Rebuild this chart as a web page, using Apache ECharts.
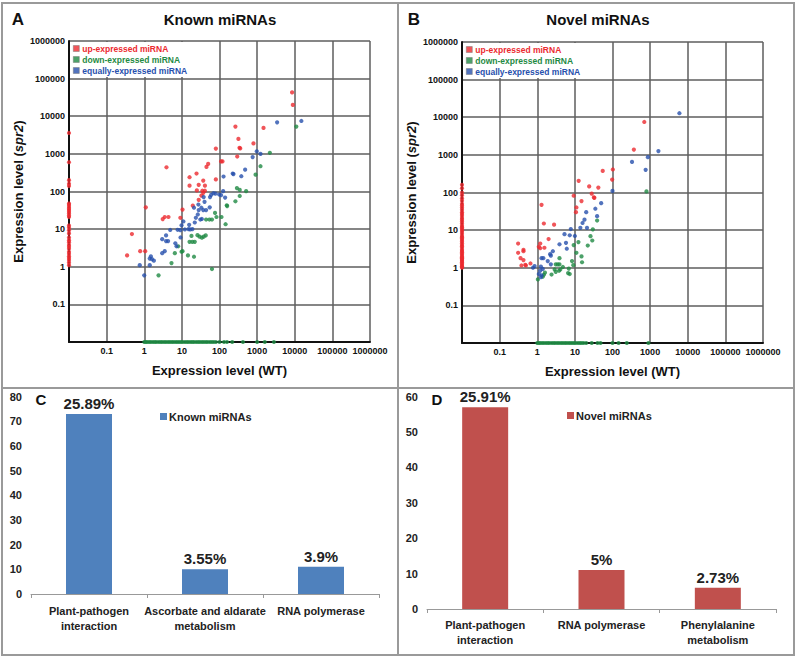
<!DOCTYPE html>
<html><head><meta charset="utf-8">
<script src="https://cdn.jsdelivr.net/npm/echarts@6/dist/echarts.min.js"></script>
<style>html,body{margin:0;padding:0;background:#fff}#c{width:797px;height:658px}</style>
</head><body><div id="c"></div>
<script>
// ---------- DATA ----------
const logTickLabels = ['', '0.1', '1', '10', '100', '1000', '10000', '100000', '1000000'];
const seriesNames = ['up-expressed miRNA', 'down-expressed miRNA', 'equally-expressed miRNA'];

// Panel A: known miRNAs  [WT, spr2]; a 0 means not detected (drawn on the axis)
const knownUp = [[8500,43000],[8900,20000],[265,5300],[1480,4900],[318,2500],[800,1900],[355,1400],[340,1450],[80,1380],[296,850],[110,630],[120,630],[50,540],[45,450],[3.9,440],[24.5,300],[16,240],[37,195],[80,210],[28,150],[41,143],[16,143],[25,107],[35,105],[41,105],[37,92],[33,78],[28,60],[19.5,42],[10.4,33],[1.1,38],[4.4,21],[3.5,21],[3.1,18.5],[9.1,20],[0.47,7.4],[0.78,2.6],[1.06,2.6],[0.35,2.0],
 [0,3600],[0,600],[0,200],[0,160],[0,140],[0,48],[0,44],[0,39],[0,35],[0,32],[0,29],[0,26],[0,23],[0,21],[0,12.5],[0,11],[0,9.3],[0,7.7],[0,6],[0,5.1],[0,4.5],[0,3.8],[0,3.4],[0,3.0],[0,2.5],[0,2.2],[0,1.9],[0,1.7],[0,1.5],[0,1.3],[0,1.1]];
const knownDown = [[11000,5300],[2180,1070],[1230,470],[910,280],[290,123],[345,110],[510,102],[345,76],[265,55],[156,43],[160,41],[76,27],[83,21],[113,21],[54,18],[63,18],[44,18],[145,13.5],[18,6.6],[26,6.9],[29.5,6.3],[34,5.9],[43,6.8],[38,6.3],[22,4.6],[19,4.6],[16,4.6],[8,3.5],[10.4,2.6],[9.8,2.5],[6.5,2.3],[14.5,2.0],[21,1.85],[5.3,1.25],[2.4,0.59],[63,0.87],
 [1,0],[1.1,0],[1.2,0],[1.35,0],[1.5,0],[1.7,0],[1.9,0],[2.1,0],[2.4,0],[2.7,0],[3,0],[3.4,0],[3.8,0],[4.3,0],[4.8,0],[5.4,0],[6,0],[6.8,0],[7.6,0],[8.5,0],[9.5,0],[10.5,0],[12,0],[13.5,0],[15,0],[17,0],[19,0],[21,0],[24,0],[27,0],[30,0],[34,0],[38,0],[43,0],[48,0],[55,0],[62,0],[70,0],[80,0],[100,0],[132,0],[158,0],[218,0],[420,0],[1000,0],[1600,0],[2800,0]];
const knownEqual = [[3400,6900],[15000,7500],[980,1170],[1230,1000],[760,820],[480,380],[225,300],[235,290],[380,255],[128,250],[125,102],[69,90],[78,88],[60,81],[98,83],[56,71],[38,71],[141,69],[110,80],[40,53],[27.5,45],[21,37],[33,37],[28,32],[37,32],[55,38],[44,32],[26.5,24.5],[23.5,20],[31,18],[34,18.6],[22,15],[15.6,13],[16.6,9.8],[11,16],[7.7,9.6],[9.1,9.4],[9.8,12.6],[12,9.8],[15,10],[19,10],[4.9,9.5],[3.8,6.8],[9.2,6],[3.0,5.4],[3.8,4.8],[4.3,4.8],[6.7,4.2],[7.2,3.5],[3.5,2.6],[3.0,2.3],[1.5,1.9],[1.4,1.65],[1.8,1.45],[1.6,1.6],[0.76,1.1],[1.4,1.1],[1.0,0.59]];

// Panel B: novel miRNAs
const novelUp = [[700,7500],[370,1380],[55,375],[102,410],[98,220],[12.6,204],[24,145],[42,135],[28,93],[32,74],[33,72],[9.3,82],[15,59],[11,40],[10.7,30],[1.3,47],[1.5,15],[2.8,14],[2.0,5.8],[0.31,4.4],[1.2,4.4],[0.43,3.0],[0.43,2.75],[1.1,3.6],[1.2,3.3],[1.55,3.4],[0.31,2.5],[0.36,1.8],[0.43,1.6],[0.48,1.2],[0.5,1.15],[0.38,1.15],[0.66,1.3],
 [0,160],[0,130],[0,100],[0,85],[0,70],[0,60],[0,50],[0,45],[0,40],[0,35],[0,30],[0,27],[0,24],[0,21],[0,19],[0,17],[0,15],[0,13],[0,12],[0,11],[0,10],[0,9],[0,8],[0,7],[0,6.5],[0,6],[0,5.5],[0,5],[0,4.5],[0,4],[0,3.7],[0,3.4],[0,3],[0,2.8],[0,2.6],[0,2.4],[0,2.2],[0,2],[0,1.9],[0,1.8],[0,1.7],[0,1.6],[0,1.5],[0,1.4],[0,1.3],[0,1.2],[0,1.1],[0,1.05],[0,1]];
const novelDown = [[800,107],[39,18],[30,10.5],[26,6.9],[29,5.3],[22,3.9],[12.4,4.8],[9.3,4.0],[11,2.5],[15,2.0],[15.5,1.4],[8.4,1.5],[9.1,1.17],[6.9,0.95],[6.6,0.72],[7.3,0.68],[3.9,1.8],[3.1,1.23],[3.5,1.23],[3.9,1.23],[4.8,1.05],[2.9,0.9],[3.1,0.78],[3.8,0.83],[4.1,0.9],[2.4,0.66],[1.6,0.74],[1.5,0.65],[1.4,0.58],[1.04,0.49],
 [1,0],[1.1,0],[1.2,0],[1.35,0],[1.5,0],[1.7,0],[1.9,0],[2.1,0],[2.4,0],[2.7,0],[3,0],[3.4,0],[3.8,0],[4.3,0],[4.8,0],[5.4,0],[6,0],[6.8,0],[7.6,0],[8.5,0],[9.5,0],[10.5,0],[12,0],[13.5,0],[15,0],[17,0],[20,0],[28,0],[40,0],[48,0],[100,0],[145,0],[240,0],[900,0]];
const novelEqual = [[6000,12800],[1660,1260],[870,870],[330,650],[760,400],[100,110],[50,52],[35,37],[20,30],[39,23.5],[18,19],[16,15.5],[7.8,10.7],[21,11.5],[14,11.5],[5.3,7.8],[7.3,7.3],[10,7],[5.8,4.6],[3.9,4.2],[6.1,3.2],[2.6,2.75],[2.2,2.3],[2.3,2.1],[1.9,1.5],[2.3,1.23],[1.3,1.8],[1.45,1.8],[0.85,1.1],[0.77,1.0],[1.25,1.07],[1.4,0.93],[1.2,0.83],[1.1,0.68],[1.3,0.63],[1.25,0.56]];

// Panel C / D: KEGG pathways
const knownCategories = ['Plant-pathogen\ninteraction', 'Ascorbate and aldarate\nmetabolism', 'RNA polymerase'];
const knownCounts = [73, 10, 11];
const knownPercents = ['25.89%', '3.55%', '3.9%'];
const novelCategories = ['Plant-pathogen\ninteraction', 'RNA polymerase', 'Phenylalanine\nmetabolism'];
const novelCounts = [57, 11, 6];
const novelPercents = ['25.91%', '5%', '2.73%'];

// ---------- CHART ----------
const AXMIN = 0.01, AXMAX = 1000000;
const FONT = 'Arial, "Liberation Sans", Helvetica, sans-serif';
const RED = '#ec2a30', GREEN = '#1f8a44', BLUE = '#2750ad';
const prep = arr => arr.map(([x, y]) => [x > 0 ? x : AXMIN, y > 0 ? y : AXMIN]);
const logLabel = v => logTickLabels[Math.round(Math.log10(v)) + 2] || '';

function logAxis(grid, isX) {
  return {
    type: 'log', logBase: 10, gridIndex: grid, min: AXMIN, max: AXMAX,
    name: isX ? 'Expression level (WT)' : 'Expression level ({i|spr2})',
    nameLocation: 'middle', nameGap: isX ? 22 : 44,
    nameTextStyle: { fontFamily: FONT, fontWeight: 'bold', fontSize: 13, color: '#111',
      rich: { i: { fontFamily: FONT, fontWeight: 'bold', fontStyle: 'italic', fontSize: 13, color: '#111' } } },
    axisLine: { show: true, onZero: false, lineStyle: { color: '#111', width: 2 } },
    axisTick: { show: false },
    axisLabel: { formatter: logLabel, fontFamily: FONT, fontWeight: 'bold', fontSize: 9, color: '#111', margin: 4 },
    splitLine: { show: true, lineStyle: { color: '#5e5e5e', width: 1.5 } },
    minorSplitLine: { show: false }
  };
}
function scat(name, data, color, idx) {
  return { type: 'scatter', name, data: prep(data), xAxisIndex: idx, yAxisIndex: idx,
    symbolSize: 4.2, itemStyle: { color }, clip: false, silent: true, z: 3 };
}
function catAxis(grid, cats, margin) {
  return { type: 'category', gridIndex: grid, data: cats,
    axisLine: { show: true, lineStyle: { color: '#999', width: 1 } },
    axisTick: { show: true, length: 4, lineStyle: { color: '#999' } },
    axisLabel: { interval: 0, fontFamily: FONT, fontWeight: 'bold', fontSize: 11, color: '#222', lineHeight: 15, margin } };
}
function valAxis(grid, max) {
  return { type: 'value', gridIndex: grid, min: 0, max, interval: 10,
    axisLine: { show: false }, axisTick: { show: false }, splitLine: { show: false },
    axisLabel: { fontFamily: FONT, fontWeight: 'bold', fontSize: 11, color: '#222', margin: 9 } };
}
function barSeries(name, data, labels, color, idx) {
  return { type: 'bar', name, data, xAxisIndex: idx, yAxisIndex: idx, barWidth: 46,
    itemStyle: { color },
    label: { show: true, position: 'top', distance: 3, fontFamily: FONT, fontWeight: 'bold', fontSize: 15, color: '#222',
      formatter: p => labels[p.dataIndex] } };
}
function legendFor(left, top, names, colors) {
  return { left, top, orient: 'vertical', itemWidth: 6, itemHeight: 6, itemGap: 0, padding: [1, 3, 1, 2],
    backgroundColor: '#fff', icon: 'rect', selectedMode: false,
    itemStyle: { borderColor: '#777', borderWidth: 0.6 },
    data: names.map((n, i) => ({ name: n, textStyle: { color: colors[i] } })),
    textStyle: { fontFamily: FONT, fontWeight: 'bold', fontSize: 8.5, lineHeight: 11, padding: [0, 0, 0, -2] } };
}
const txt = (x, y, text, size) => ({ type: 'text', x, y, z: 100,
  style: { text, fontFamily: FONT, fontWeight: 'bold', fontSize: size, fill: '#111', align: 'center', verticalAlign: 'middle' } });
const line = (x1, y1, x2, y2) => ({ type: 'line', z: 90, shape: { x1, y1, x2, y2 }, style: { stroke: '#9a9a9a', lineWidth: 2 } });

const chart = echarts.init(document.getElementById('c'), null, { renderer: 'svg' });
chart.setOption({
  animation: false,
  grid: [
    { left: 69, top: 41, width: 301, height: 301 },
    { left: 462, top: 42, width: 301, height: 301 },
    { left: 31, top: 396.7, width: 348, height: 197.3 },
    { left: 427, top: 396.6, width: 349, height: 212.4 }
  ],
  xAxis: [logAxis(0, true), logAxis(1, true), catAxis(2, knownCategories, 9), catAxis(3, novelCategories, 8)],
  yAxis: [logAxis(0, false), logAxis(1, false), valAxis(2, 80), valAxis(3, 60)],
  legend: [
    legendFor(71, 42, seriesNames, [RED, GREEN, BLUE]),
    legendFor(464, 43, seriesNames, [RED, GREEN, BLUE]),
    { left: 155, top: 406, itemWidth: 7, itemHeight: 7, icon: 'rect', selectedMode: false, data: ['Known miRNAs'],
      textStyle: { fontFamily: FONT, fontWeight: 'bold', fontSize: 11, color: '#222', padding: [0, 0, 0, -3] } },
    { left: 562, top: 405, itemWidth: 7, itemHeight: 7, icon: 'rect', selectedMode: false, data: ['Novel miRNAs'],
      textStyle: { fontFamily: FONT, fontWeight: 'bold', fontSize: 11, color: '#222', padding: [0, 0, 0, -3] } }
  ],
  series: [
    scat(seriesNames[0], knownUp, RED, 0),
    scat(seriesNames[1], knownDown, GREEN, 0),
    scat(seriesNames[2], knownEqual, BLUE, 0),
    scat(seriesNames[0], novelUp, RED, 1),
    scat(seriesNames[1], novelDown, GREEN, 1),
    scat(seriesNames[2], novelEqual, BLUE, 1),
    barSeries('Known miRNAs', knownCounts, knownPercents, '#4f81bd', 2),
    barSeries('Novel miRNAs', novelCounts, novelPercents, '#c0504d', 3)
  ],
  graphic: [
    { type: 'rect', z: 90, shape: { x: 2, y: 3, width: 792, height: 652 }, style: { fill: 'none', stroke: '#9a9a9a', lineWidth: 2 } },
    line(398, 3, 398, 655), line(2, 388, 794, 388),
    txt(18, 19, 'A', 17), txt(220, 19, 'Known miRNAs', 15),
    txt(414, 19, 'B', 17), txt(598, 19, 'Novel miRNAs', 15),
    txt(41, 399, 'C', 15), txt(437, 399, 'D', 15)
  ]
});
</script></body></html>
